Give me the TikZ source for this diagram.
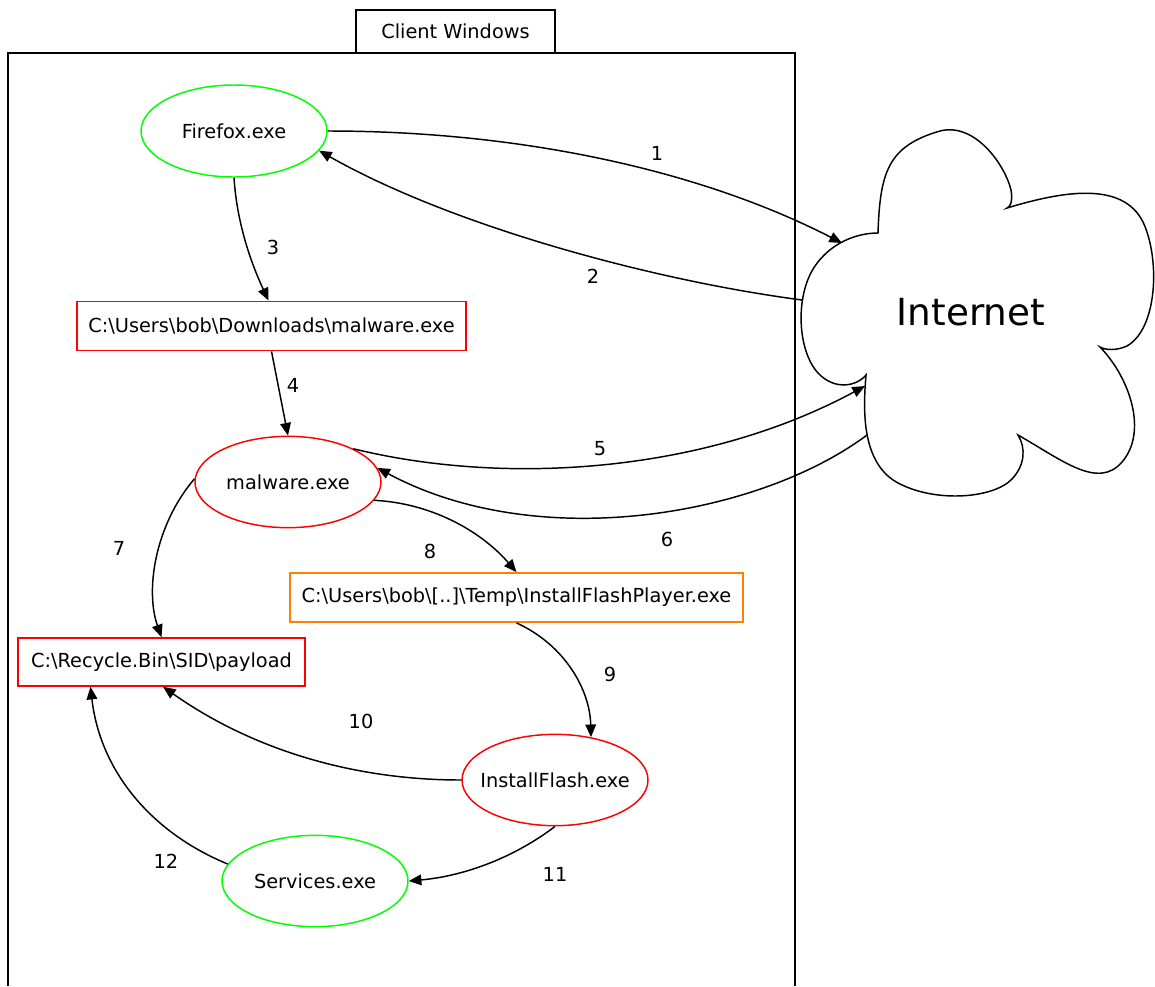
\documentclass[tikz,border=0pt]{standalone}
\usepackage{fontspec}
\setmainfont{DejaVu Sans}
\usetikzlibrary{arrows.meta,shapes.geometric,calc}
\definecolor{okgreen}{HTML}{00FF00}
\definecolor{badred}{HTML}{FF0000}
\definecolor{droporange}{HTML}{FF7F00}
\begin{document}
\begin{tikzpicture}[x=0.75pt,y=-0.75pt,
  every node/.style={font=\fontsize{14.5}{17}\selectfont},
  proc/.style={ellipse, draw, line width=1.1pt, minimum width=139.5pt, minimum height=68.5pt, inner xsep=-25pt, inner ysep=0pt},
  filebox/.style={rectangle, draw, line width=1.1pt, minimum height=37pt, inner sep=0pt},
  flow/.style={-{Triangle[length=9.5pt,width=8pt]}, line width=1.1pt},
  num/.style={inner sep=0pt}]
\useasboundingbox (0,0) rectangle (1155,986);

% cluster frame
\draw[line width=1.1pt] (8,986) -- (8,53) -- (795,53) -- (795,986);
\node[rectangle, draw, line width=1.1pt, fill=white, minimum width=149.25pt, minimum height=32.25pt, inner sep=0pt] (title) at (455.5,31.5) {Client Windows};

% processes and files
\node[proc, draw=okgreen, minimum height=69pt] (firefox) at (234,131) {Firefox.exe};
\node[filebox, draw=badred, minimum width=291.75pt] (dl) at (271.5,326) {C:\textbackslash Users\textbackslash bob\textbackslash Downloads\textbackslash malware.exe};
\node[proc, draw=badred] (mal) at (288,482) {malware.exe};
\node[filebox, draw=droporange, minimum width=339.75pt] (ifp) at (516.5,597.5) {C:\textbackslash Users\textbackslash bob\textbackslash [..]\textbackslash Temp\textbackslash InstallFlashPlayer.exe};
\node[filebox, draw=badred, minimum width=215.25pt, minimum height=36pt] (rec) at (161.5,662) {C:\textbackslash Recycle.Bin\textbackslash SID\textbackslash payload};
\node[proc, draw=badred] (iflash) at (555,780) {InstallFlash.exe};
\node[proc, draw=okgreen] (svc) at (315,881) {Services.exe};

% internet cloud, five lobes meeting in small cusps
\draw[line width=1.1pt, fill=white]
  (878,233) .. controls (880,172) and (888,146) .. (940,131)
  .. controls (975,122) and (1005,165) .. (1011,190)
  .. controls (1013,202) and (1010,207) .. (1007,208)
  .. controls (1060,192) and (1122,180) .. (1143,222)
  .. controls (1160,258) and (1158,328) .. (1127,346)
  .. controls (1116,351) and (1105,350) .. (1100,347)
  .. controls (1130,378) and (1148,432) .. (1122,462)
  .. controls (1098,490) and (1062,460) .. (1018,435)
  .. controls (1026,448) and (1025,465) .. (1012,479)
  .. controls (994,498) and (938,503) .. (900,484)
  .. controls (861,465) and (863,410) .. (866,375)
  .. controls (857,386) and (835,391) .. (818,373)
  .. controls (797,350) and (795,295) .. (815,266)
  .. controls (830,244) and (855,233) .. (878,233) -- cycle;
\node[font=\fontsize{28}{34}\selectfont, inner sep=0pt] (internet) at (971,312) {Internet};
\coordinate (netA) at (842,243);
\coordinate (netB) at (802,300);
\coordinate (netC) at (865,386);
\coordinate (netD) at (867,435);

% connectors
\draw[flow] (firefox.east) .. controls (520,131) and (700,170) .. (netA);
\draw[flow] (netB) .. controls (650,280) and (450,225) .. (firefox.-13);
\draw[flow] (firefox.south) .. controls (237,225) and (252,265) .. ($(dl.north)+(-3,0)$);
\draw[flow] (dl.south) -- (mal.north);
\draw[flow] (mal.27) .. controls (500,485) and (700,475) .. (netC);
\draw[flow] (netD) .. controls (760,515) and (540,555) .. (mal.9);
\draw[flow] (mal.178) .. controls (155,525) and (145,590) .. (rec.north);
\draw[flow] (mal.-12) .. controls (430,503) and (480,530) .. (ifp.north);
\draw[flow] (ifp.south) .. controls (565,645) and (590,690) .. (iflash.50);
\draw[flow] (iflash.west) .. controls (350,780) and (250,748) .. ($(rec.south)+(1.5,0)$);
\draw[flow] (iflash.south) .. controls (515,857) and (465,876) .. (svc.east);
\draw[flow] (svc.169) .. controls (150,832) and (100,770) .. ($(rec.south)+(-71,0)$);

% step numbers
\node[num] (lab1) at (657,153) {1};
\node[num] (lab2) at (593,276) {2};
\node[num] (lab3) at (273,247) {3};
\node[num] (lab4) at (293,385) {4};
\node[num] (lab5) at (600,449) {5};
\node[num] (lab6) at (667,539) {6};
\node[num] (lab7) at (119,548) {7};
\node[num] (lab8) at (430,551) {8};
\node[num] (lab9) at (610,674) {9};
\node[num] (lab10) at (361,721) {10};
\node[num] (lab11) at (555,874) {11};
\node[num] (lab12) at (166,861) {12};
\end{tikzpicture}
\end{document}
